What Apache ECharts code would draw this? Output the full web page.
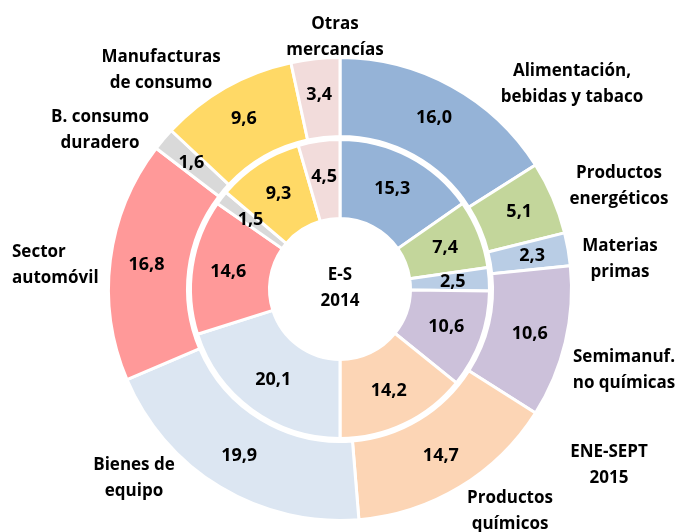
<!DOCTYPE html>
<html>
<head>
<meta charset="utf-8">
<script src="https://cdn.jsdelivr.net/npm/echarts@6/dist/echarts.min.js"></script>
<style>
  html, body { margin: 0; padding: 0; background: #fff; }
  #chart { width: 678px; height: 532px; }
</style>
</head>
<body>
<div id="chart"></div>
<script>
// categorías (en orden, desde las 12 en sentido horario)
var categories = [
  'Alimentación,\nbebidas y tabaco',
  'Productos\nenergéticos',
  'Materias\nprimas',
  'Semimanuf.\nno químicas',
  'Productos\nquímicos',
  'Bienes de\nequipo',
  'Sector\nautomóvil',
  'B. consumo\nduradero',
  'Manufacturas\nde consumo',
  'Otras\nmercancías'
];
// E-S 2014 (anillo interior)
var values2014 = [15.3, 7.4, 2.5, 10.6, 14.2, 20.1, 14.6, 1.5, 9.3, 4.5];
// ENE-SEPT 2015 (anillo exterior)
var values2015 = [16.0, 5.1, 2.3, 10.6, 14.7, 19.9, 16.8, 1.6, 9.6, 3.4];
var innerTitle = 'E-S\n2014';
var outerTitle = 'ENE-SEPT\n2015';

var colors = ['#95B3D7', '#C3D69B', '#B9CDE5', '#CCC1DA', '#FCD5B5',
              '#DCE6F2', '#FF9999', '#D9D9D9', '#FFD966', '#F2DCDB'];

// posición de los rótulos de categoría [x, y, align]
var labelPos = [
  [572, 84, 'center'], [619, 186, 'center'], [620, 259, 'center'],
  [624, 370, 'center'], [510, 511, 'center'], [134, 478, 'center'],
  [12, 265, 'left'], [100, 130, 'center'], [161, 70, 'center'],
  [335, 37, 'center']
];

var font = '"Open Sans"';
var fmt = function (p) { return p.value.toFixed(1).replace('.', ','); };

function ring(name, vals, radius) {
  return {
    name: name,
    type: 'pie',
    center: [340, 289],
    radius: radius,
    startAngle: 90,
    clockwise: true,
    silent: true,
    animation: false,
    avoidLabelOverlap: false,
    itemStyle: { borderColor: '#fff', borderWidth: 3 },
    label: {
      show: true,
      position: 'inside',
      formatter: fmt,
      color: '#000',
      fontFamily: font,
      fontWeight: 'bold',
      fontSize: 18
    },
    labelLine: { show: false },
    emphasis: { disabled: true },
    data: vals.map(function (v, i) {
      return { value: v, name: categories[i], itemStyle: { color: colors[i] } };
    })
  };
}

var textStyle = function (txt, x, y, align) {
  return {
    type: 'text',
    x: x,
    y: y,
    style: {
      text: txt,
      fill: '#000',
      font: 'bold 17px ' + font,
      lineHeight: 25.5,
      align: align,
      verticalAlign: 'middle'
    }
  };
};

var graphics = categories.map(function (c, i) {
  return textStyle(c, labelPos[i][0], labelPos[i][1], labelPos[i][2]);
});
graphics.push(textStyle(innerTitle, 340, 288, 'center'));
graphics.push(textStyle(outerTitle, 609, 465, 'center'));

var myChart = echarts.init(document.getElementById('chart'));
var option = {
  animation: false,
  series: [
    ring('E-S 2014', values2014, [70.5, 149.5]),
    ring('ENE-SEPT 2015', values2015, [152.5, 231.5])
  ],
  graphic: graphics
};
option && myChart.setOption(option);
</script>
</body>
</html>
